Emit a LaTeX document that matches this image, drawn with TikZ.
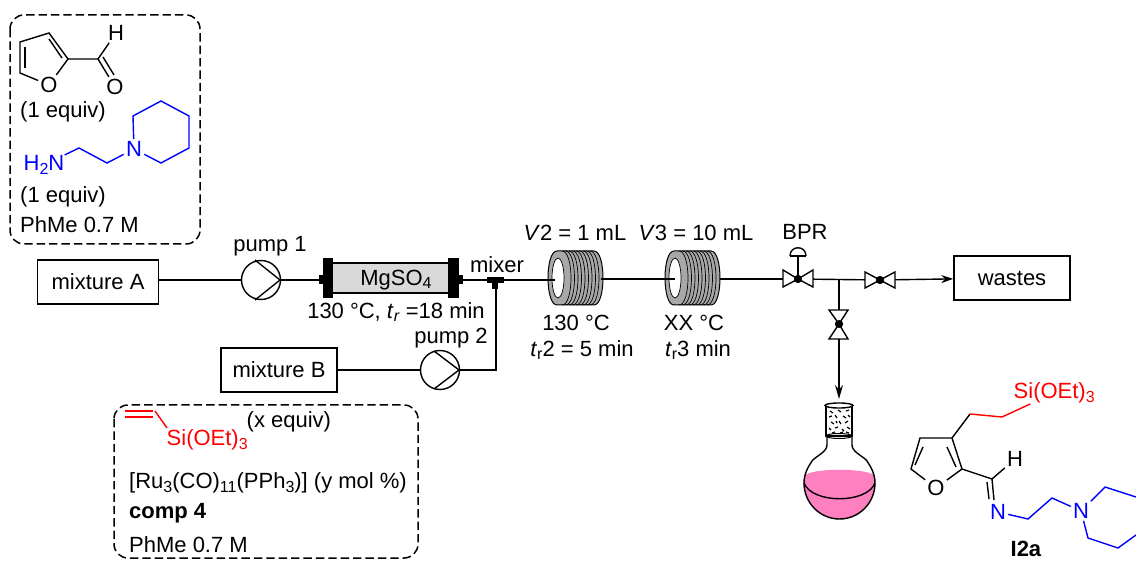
\documentclass[tikz,border=0pt]{standalone}
\usepackage{fontspec}
\setmainfont{Liberation Sans}
\usetikzlibrary{positioning, arrows.meta}
\definecolor{coilgray}{HTML}{A8A8A8}
\definecolor{colgray}{HTML}{D9D9D9}
\definecolor{flaskpink}{HTML}{FF80C0}
\newcommand{\subs}[1]{\raisebox{-0.3ex}{\fontsize{8}{9}\selectfont #1}}
\tikzset{
  every node/.style={font=\fontsize{11}{13}\selectfont},
  unitbox/.style={draw, line width=0.8pt, inner sep=0},
  pumpnode/.style={draw, circle, line width=0.7pt, minimum size=19.5pt, inner sep=0},
  atom/.style={inner sep=0.8pt},
  lbl/.style={inner sep=0, anchor=west},
  valvedot/.style={fill, circle, minimum size=4pt, inner sep=0},
  tube/.style={line width=0.7pt},
  dashbox/.style={draw, line width=0.75pt, dash pattern=on 4.2pt off 2pt, rounded corners=7pt},
  wind/.style={line width=0.35pt},
  ring/.style={fill=coilgray, draw, line width=0.5pt},
  valvetri/.style={draw, fill=white, line width=0.7pt}
}
\begin{document}
\begin{tikzpicture}[x=0.5pt,y=-0.5pt,line width=0.7pt]
      \useasboundingbox (0,0) rectangle (1136,561);
      \draw[dashbox] (10,15) rectangle (200,244);
      \draw[dashbox] (114,405) rectangle (418,558);
      \node[unitbox, minimum width=60.5pt, minimum height=22pt] (mixA) at (98,282) {mixture A};
      \node[unitbox, minimum width=58pt, minimum height=22pt] (mixB) at (279,370) {mixture B};
      \node[unitbox, minimum width=58pt, minimum height=22pt] (wastes) at (1012,278) {wastes};
      \node[pumpnode] (pumpA) at (261,280) {};
      \node[pumpnode] (pumpB) at (440,370) {};
      \coordinate (colL) at (319,280);
      \coordinate (colR) at (463,280);
      \coordinate (mixerT) at (496,280);
      \coordinate (coilAin) at (555,280);
      \coordinate (coilAout) at (601,279);
      \coordinate (coilBin) at (675,279);
      \coordinate (coilBout) at (720,279);
      \coordinate (branch) at (839,280);
      \coordinate (flaskTop) at (839,399);
      \draw[ring] (557,251) -- (594,251) .. controls (606,251) and (606,305) .. (594,305) -- (557,305) .. controls (545,305) and (545,251) .. (557,251) -- cycle;
      \fill[white] (558,278) ellipse[x radius=6, y radius=20];
      \draw[wind] (558,278) ellipse[x radius=6, y radius=20];
      \draw[wind] (562,251) .. controls (574,251) and (574,305) .. (562,305);
      \draw[wind] (565.5,251) .. controls (577.5,251) and (577.5,305) .. (565.5,305);
      \draw[wind] (569,251) .. controls (581,251) and (581,305) .. (569,305);
      \draw[wind] (572.5,251) .. controls (584.5,251) and (584.5,305) .. (572.5,305);
      \draw[wind] (576,251) .. controls (588,251) and (588,305) .. (576,305);
      \draw[wind] (579.5,251) .. controls (591.5,251) and (591.5,305) .. (579.5,305);
      \draw[wind] (583,251) .. controls (595,251) and (595,305) .. (583,305);
      \draw[wind] (586.5,251) .. controls (598.5,251) and (598.5,305) .. (586.5,305);
      \draw[wind] (590,251) .. controls (602,251) and (602,305) .. (590,305);
      \draw[ring] (674,251) -- (711,251) .. controls (723,251) and (723,305) .. (711,305) -- (674,305) .. controls (662,305) and (662,251) .. (674,251) -- cycle;
      \fill[white] (675,278) ellipse[x radius=6, y radius=20];
      \draw[wind] (675,278) ellipse[x radius=6, y radius=20];
      \draw[wind] (679,251) .. controls (691,251) and (691,305) .. (679,305);
      \draw[wind] (682.5,251) .. controls (694.5,251) and (694.5,305) .. (682.5,305);
      \draw[wind] (686,251) .. controls (698,251) and (698,305) .. (686,305);
      \draw[wind] (689.5,251) .. controls (701.5,251) and (701.5,305) .. (689.5,305);
      \draw[wind] (693,251) .. controls (705,251) and (705,305) .. (693,305);
      \draw[wind] (696.5,251) .. controls (708.5,251) and (708.5,305) .. (696.5,305);
      \draw[wind] (700,251) .. controls (712,251) and (712,305) .. (700,305);
      \draw[wind] (703.5,251) .. controls (715.5,251) and (715.5,305) .. (703.5,305);
      \draw[wind] (707,251) .. controls (719,251) and (719,305) .. (707,305);
      \node[valvedot] (valveA) at (798,279) {};
      \node[valvedot] (valveB) at (880,280) {};
      \node[valvedot] (valveC) at (839,324) {};
      \draw[tube] (pumpA -| mixA.east) -- (pumpA);
      \draw[tube] (pumpA) -- (colL);
      \draw[tube] (colR) -- (mixerT);
      \draw[tube] (mixerT) -- (coilAin);
      \draw[tube] (coilAout) -- (coilBin);
      \draw[tube] (coilBout) -- (valveA);
      \draw[tube] (valveA) -- (valveB);
      \draw[tube] (branch) -- (valveC);
      \draw[tube] (mixB) -- (pumpB);
      \draw[tube] (pumpB.east) -| (mixerT);
      \draw[tube, -{Stealth[length=6pt,width=4pt]}] (valveB) -- (wastes);
      \draw[tube, -{Stealth[length=7pt,width=4pt]}] (valveC) -- (flaskTop);
      \draw (255,260)--(280,280)--(255,300);
      \draw (434,351)--(459,370)--(434,389);
      \fill[colgray] (333,263) rectangle (448,293);
      \draw[line width=1pt] (333,263)--(448,263);
      \draw[line width=1pt] (333,293)--(448,293);
      \fill (323,258) rectangle (333,298);
      \fill (448,258) rectangle (459,298);
      \fill (319,275) rectangle (323,284);
      \fill (459,275) rectangle (463,284);
      \fill (487,277) rectangle (504,283);
      \fill (492,283) rectangle (498,289);
      \draw[valvetri] (783,270)--(798,279)--(783,287)--cycle;
      \draw[valvetri] (813,270)--(798,279)--(813,287)--cycle;
      \draw[valvetri] (865,272)--(880,280)--(865,288)--cycle;
      \draw[valvetri] (895,272)--(880,280)--(895,288)--cycle;
      \draw[valvetri] (829,310)--(839,324)--(848,310)--cycle;
      \draw[valvetri] (829,339)--(839,324)--(848,339)--cycle;
      \node[valvedot] at (798,279) {};
      \node[valvedot] at (880,280) {};
      \node[valvedot] at (839,324) {};
      \draw (798,279)--(798,256);
      \draw (790,256)--(806,256);
      \draw (790,256) .. controls (790,245) and (806,245) .. (806,256);
      \fill[flaskpink] (805,475) .. controls (815,468) and (864,468) .. (874,475) .. controls (875,478) and (875,480) .. (875,483) .. controls (875,503) and (859,519) .. (839.5,519) .. controls (820,519) and (804,503) .. (804,483) .. controls (804,480) and (804,478) .. (805,475) -- cycle;
      \draw (827,437) -- (827,445) .. controls (827,452) and (816,456) .. (812,461) .. controls (808,467) and (804,474) .. (804,483) .. controls (804,503) and (820,519) .. (839.5,519) .. controls (859,519) and (875,503) .. (875,483) .. controls (875,474) and (871,467) .. (867,461) .. controls (863,456) and (852,452) .. (852,445) -- (852,437);
      \draw (804,483) .. controls (812,504) and (867,504) .. (875,483);
      \draw[fill=white] (826,405) -- (826,436) -- (852,436) -- (852,405) -- cycle;
      \draw[line width=0.5pt] (839,436) ellipse[x radius=13, y radius=2.5];
      \draw[fill=white] (839,405.5) ellipse[x radius=14, y radius=2.5];
      \draw[line width=0.6pt] (830,411)--(833,413) (838,410)--(841,412) (846,411)--(849,410) (829,417)--(832,416) (835,415)--(837,418) (843,416)--(846,418) (848,415)--(850,417) (831,422)--(834,424) (839,421)--(841,424) (845,423)--(848,421) (829,428)--(831,430) (835,428)--(838,427) (842,429)--(844,431) (847,427)--(850,429) (832,433)--(835,432) (840,433)--(843,432) (836,421)--(837,423) (846,432)--(849,433);
      \node (pumpAlab) at (270,246) {pump 1};
      \node (pumpBlab) at (451,338) {pump 2};
      \node (colLab) at (396,280) {MgSO\subs{4}};
      \node (colTemp) at (396,312) {130 °C, \textit{t}\subs{\textit{r}} =18 min};
      \node (mixerLab) at (497,265) {mixer};
      \node (volA) at (575,233) {\textit{V}2 = 1 mL};
      \node (volB) at (696,233) {\textit{V}3 = 10 mL};
      \node (tempA) at (576,323) {130 °C};
      \node (timeA) at (582,350) {\textit{t}\subs{r}2 = 5 min};
      \node (tempB) at (694,323) {XX °C};
      \node (timeB) at (698,350) {\textit{t}\subs{r}3 min};
      \node (bprLab) at (805,232) {BPR};
      \node[atom] (furO) at (49,85) {O};
      \node[atom] (choO) at (115,87) {O};
      \node[atom] (choH) at (116,33) {H};
      \draw (furO)--(20,73)--(20,42)--(49,33)--(68,59)--(furO);
      \draw (25,47)--(25,68);
      \draw (49,39)--(62,58);
      \draw (68,59)--(98,59)--(choH);
      \draw (98,59)--(choO);
      \draw (103,57)--(114,75);
      \node[lbl] (equivA) at (19.5,112) {(1 equiv)};
      \node[lbl, blue] (amineN) at (23,165) {H\subs{2}N};
      \node[atom, blue] (pipN) at (134,149) {N};
      \draw[blue] (amineN)--(79,148)--(107,163)--(pipN);
      \draw[blue] (pipN)--(133,116)--(161,101)--(189,116)--(189,148)--(161,163)--(pipN);
      \node[lbl] (equivB) at (19.5,197) {(1 equiv)};
      \node[lbl] (solvA) at (19.5,225) {PhMe 0.7 M};
      \node[lbl, red] (silA) at (166,440) {Si(OEt)\subs{3}};
      \draw[red] (125,411)--(153,411);
      \draw[red] (125,417)--(153,417);
      \draw[red] (155,411)--(167,428);
      \node[lbl] (equivC) at (246,422) {(x equiv)};
      \node[lbl] (cat) at (128.5,483) {[Ru\subs{3}(CO)\subs{11}(PPh\subs{3})] (y mol \%)};
      \node[lbl] (comp) at (128.5,513) {\textbf{comp 4}};
      \node[lbl] (solvB) at (128.5,545) {PhMe 0.7 M};
      \node[atom] (prodO) at (936,488) {O};
      \node[atom] (prodH) at (1015,459) {H};
      \node[atom, blue] (prodN) at (998,512) {N};
      \node[atom, blue] (prodPipN) at (1081,511) {N};
      \node[lbl, red] (silB) at (1013,393) {Si(OEt)\subs{3}};
      \draw (prodO)--(911,469)--(920,438)--(952,438)--(962,469)--(prodO);
      \draw (923,447)--(915,465);
      \draw (947,447)--(956,467);
      \draw (952,438)--(970,414);
      \draw[red] (970,414)--(1002,417)--(silB);
      \draw (962,469)--(992,479)--(prodH);
      \draw (992,479)--(994,500);
      \draw (987,482)--(989,499);
      \draw[blue] (prodN)--(1028,519)--(1052,498)--(prodPipN);
      \draw[blue] (prodPipN)--(1105,487)--(1136,497);
      \draw[blue] (prodPipN)--(1088,538)--(1118,548)--(1136,535);
      \node (prodLab) at (1026,549) {\textbf{I2a}};
    \end{tikzpicture}
\end{document}
